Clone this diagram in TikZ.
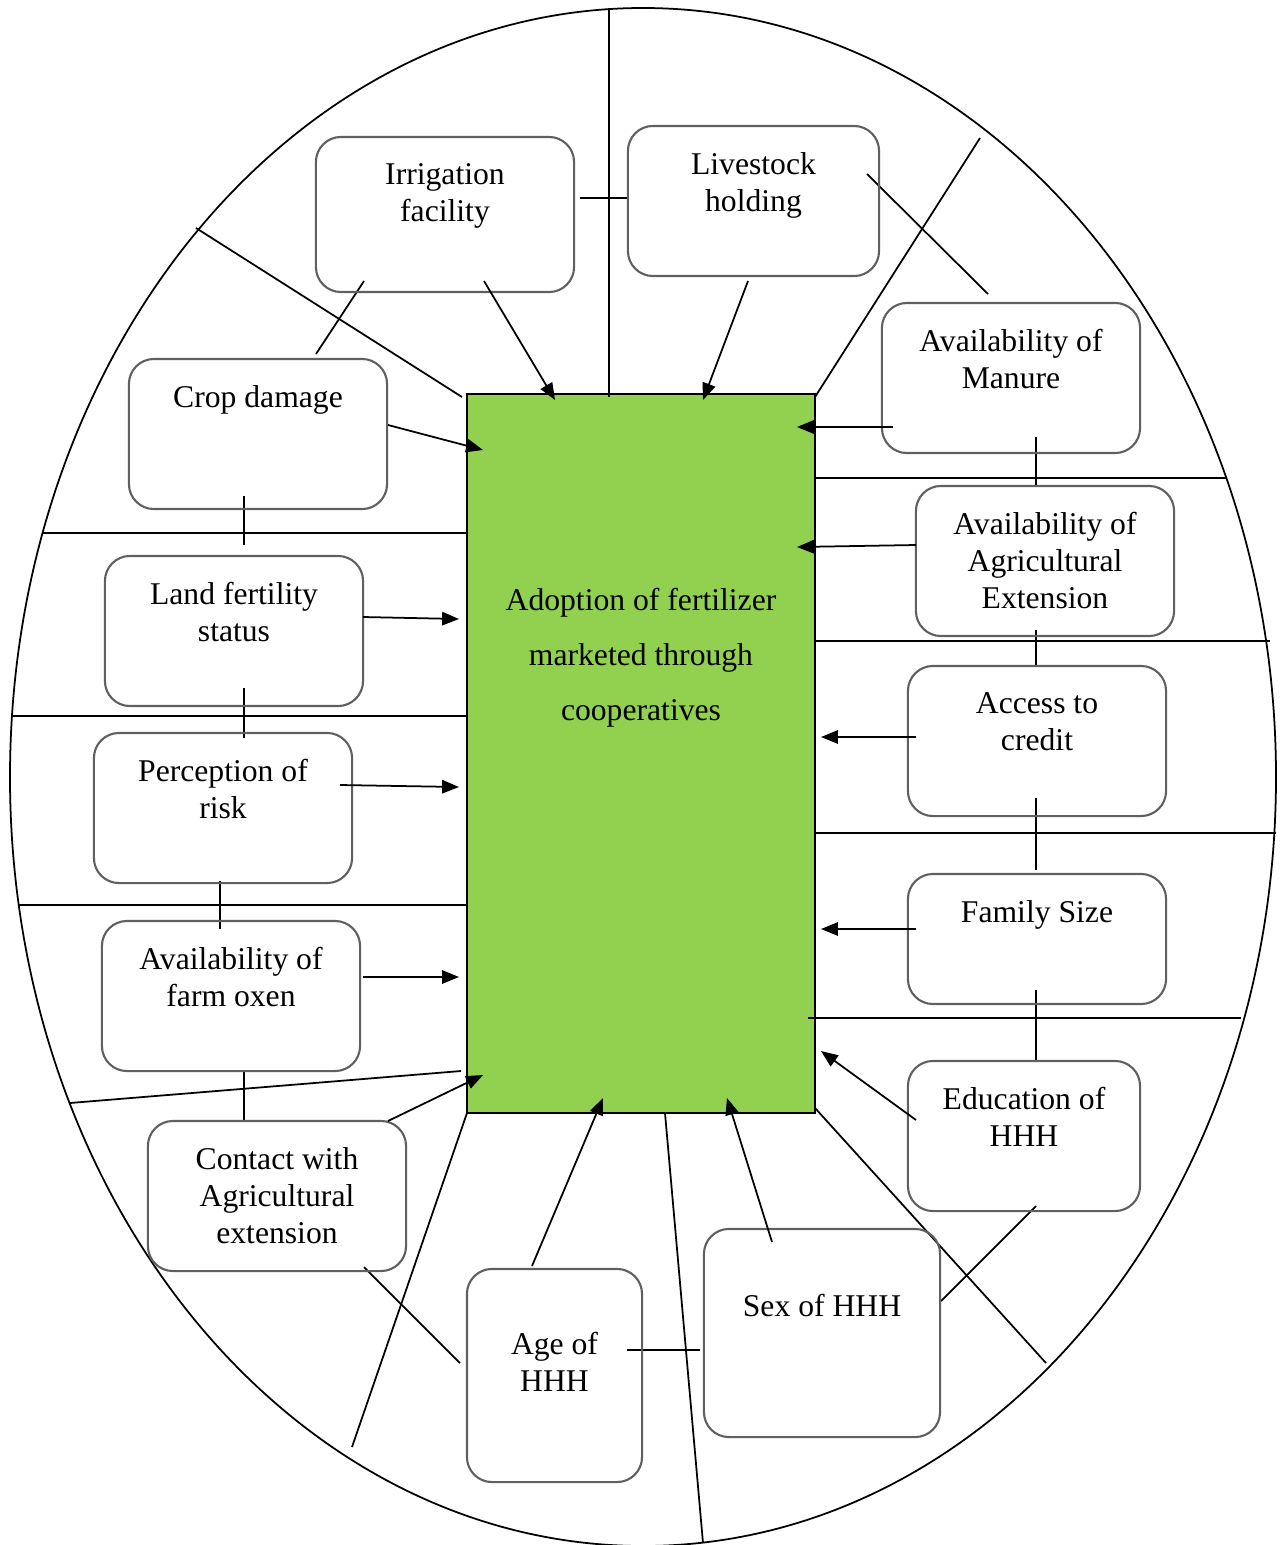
\documentclass[tikz,border=0pt]{standalone}
\usepackage{fontspec}
\setmainfont{Liberation Serif}
\usetikzlibrary{arrows.meta}
\definecolor{vert}{HTML}{92D050}
\definecolor{bord}{HTML}{606060}
\tikzset{
  factor/.style={draw=bord, line width=0.6pt, rounded corners=0.25cm, inner sep=0pt},
  ftext/.style={anchor=north, align=center, yshift=-0.15cm, font=\fontsize{9}{10.5}\selectfont},
  arr/.style={-{Triangle[length=4.8pt,width=3.8pt]}, line width=0.5pt},
}
\begin{document}
\begin{tikzpicture}[x=0.01cm, y=-0.01cm, line width=0.5pt]
  \useasboundingbox (0,0) rectangle (1282,1545);
  % Contour
  \draw (643,777) ellipse (633 and 769);
  % Bloc central
  \node[draw, fill=vert, line width=0.7pt, minimum width=3.48cm, minimum height=7.19cm, inner sep=0pt] (goal) at (641,753.5) {};
  \node[align=center, font=\fontsize{9}{15.6}\selectfont] (goaltext) at (641,658) {Adoption of fertilizer\\marketed through\\cooperatives};
  % Secteurs et liaisons
  \foreach \a/\b/\c/\d in {609/9/609/397, 580/198/628/198, 196/228/462/397, 364/281/316/354,
      867/174/988/294, 815/397/980/138, 815/478/1226/478, 1036/437/1036/486,
      815/641/1270/641, 1036/630/1036/666, 815/833/1276/833, 1036/798/1036/870,
      808/1018/1241/1018, 1036/990/1036/1061, 815/1108/1046/1363, 1036/1206/941/1301,
      665/1113/703/1543, 627/1350/700/1350, 467/1113/352/1447, 364/1267/460/1363,
      70/1103/461/1071, 244/1071/244/1121, 19/905/467/905, 220/881/220/929,
      12/716/467/716, 244/688/244/738, 43/533/467/533, 244/496/244/545}
    \draw (\a,\b) -- (\c,\d);
  % Facteurs
  \node[factor, minimum width=2.58cm, minimum height=1.55cm, label={[ftext]north:Irrigation\\facility}] (irr) at (445,214.5) {};
  \node[factor, minimum width=2.51cm, minimum height=1.50cm, label={[ftext]north:Livestock\\holding}] (liv) at (753.5,201) {};
  \node[factor, minimum width=2.58cm, minimum height=1.50cm, label={[ftext]north:Availability of\\Manure}] (man) at (1011,378) {};
  \node[factor, minimum width=2.58cm, minimum height=1.50cm, label={[ftext]north:Availability of\\Agricultural\\Extension}] (ext) at (1045,561) {};
  \node[factor, minimum width=2.58cm, minimum height=1.50cm, label={[ftext]north:Access to\\credit}] (cre) at (1037,741) {};
  \node[factor, minimum width=2.58cm, minimum height=1.30cm, label={[ftext]north:Family Size}] (fam) at (1037,939) {};
  \node[factor, minimum width=2.32cm, minimum height=1.50cm, label={[ftext]north:Education of\\HHH}] (edu) at (1024,1136) {};
  \node[factor, minimum width=2.36cm, minimum height=2.08cm, label={[ftext, yshift=-0.39cm]north:Sex of HHH}] (sex) at (822,1333) {};
  \node[factor, minimum width=1.75cm, minimum height=2.13cm, label={[ftext, yshift=-0.37cm]north:Age of\\HHH}] (age) at (554.5,1375.5) {};
  \node[factor, minimum width=2.58cm, minimum height=1.50cm, label={[ftext]north:Contact with\\Agricultural\\extension}] (con) at (277,1196) {};
  \node[factor, minimum width=2.58cm, minimum height=1.50cm, label={[ftext]north:Availability of\\farm oxen}] (oxe) at (231,996) {};
  \node[factor, minimum width=2.58cm, minimum height=1.50cm, label={[ftext]north:Perception of\\risk}] (ris) at (223,808) {};
  \node[factor, minimum width=2.58cm, minimum height=1.50cm, label={[ftext]north:Land fertility\\status}] (lan) at (234,631) {};
  \node[factor, minimum width=2.58cm, minimum height=1.50cm, label={[ftext]north:Crop damage}] (cro) at (258,434) {};
  % Flèches vers le bloc central
  \foreach \n/\sx/\sy/\ex/\ey in {irr/484/281/555/400, liv/748/281/703/400, man/893/427/797/427,
      ext/916/545/797/547, cre/916/737/821/737, fam/916/929/821/929, edu/916/1120/821/1051,
      sex/772/1242/727/1098, age/532/1266/603/1098, con/388/1121/483/1075, oxe/363/977/459/977,
      ris/340/785/459/787, lan/363/617/459/619, cro/388/425/483/450} {
    \coordinate (\n-s) at (\sx,\sy);
    \coordinate (\n-e) at (\ex,\ey);
    \draw[arr] (\n-s) -- (\n-e);
  }
\end{tikzpicture}
\end{document}
